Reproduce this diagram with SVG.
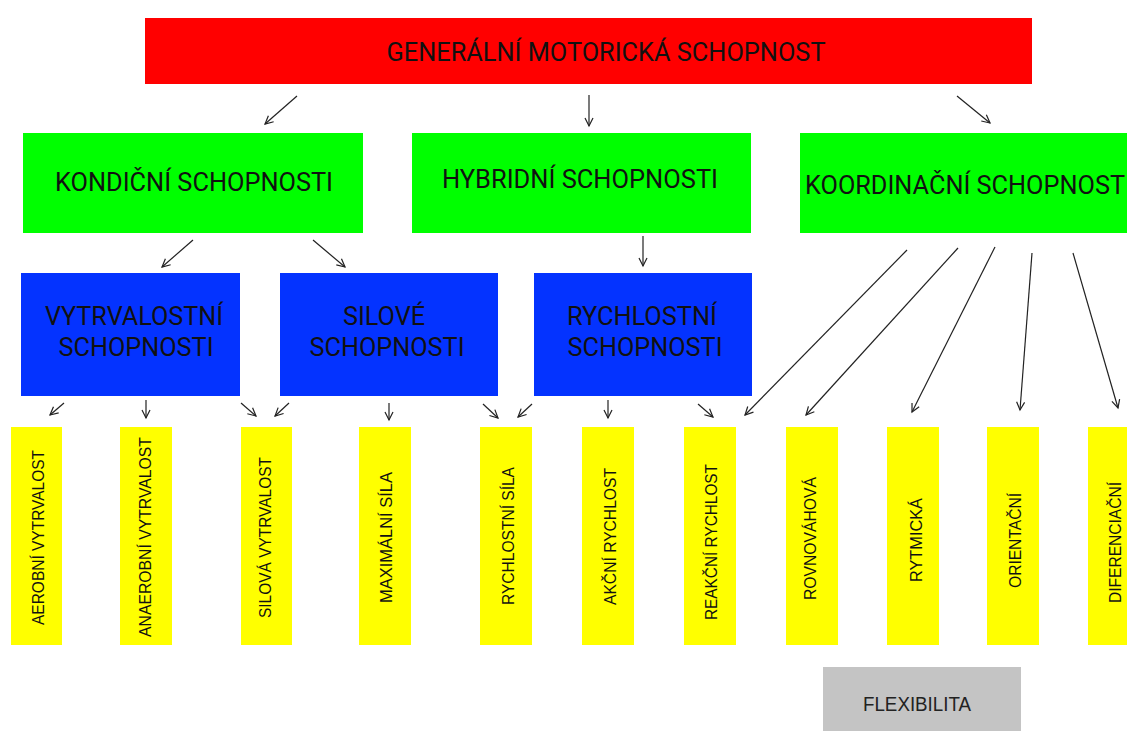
<svg xmlns="http://www.w3.org/2000/svg" width="1127" height="731" viewBox="0 0 1127 731">
<style>
.big{font-family:Roboto,"Liberation Sans",sans-serif;font-size:25px;fill:#111;text-anchor:middle;dominant-baseline:central}
.sm{font-family:"Liberation Sans",Arial,sans-serif;font-size:17px;fill:#111;text-anchor:middle;dominant-baseline:central}
.fl{font-family:"Liberation Sans",Arial,sans-serif;font-size:20px;fill:#222;text-anchor:middle;dominant-baseline:central}
.yel{fill:#ffff00}
.con line{stroke:#222;stroke-width:1.2;marker-end:url(#ah)}
</style>
<defs>
<marker id="ah" markerUnits="userSpaceOnUse" markerWidth="12" markerHeight="12" refX="9" refY="5" orient="auto">
<path d="M1,1 L9,5 L1,9" fill="none" stroke="#222" stroke-width="1.2"/>
</marker>
</defs>
<rect width="1127" height="731" fill="#fff"/>
<g id="general"><rect x="145" y="18" width="887" height="66" fill="#ff0000"/><text class="big" style="font-size:26px" x="606" y="52" textLength="439" lengthAdjust="spacingAndGlyphs">GENERÁLNÍ MOTORICKÁ SCHOPNOST</text></g>
<g id="kondicni"><rect x="23" y="133" width="340" height="100" fill="#00ff00"/><text class="big" x="194" y="182" textLength="278" lengthAdjust="spacingAndGlyphs">KONDIČNÍ SCHOPNOSTI</text></g>
<g id="hybridni"><rect x="412" y="133" width="339" height="100" fill="#00ff00"/><text class="big" x="580" y="179" textLength="276" lengthAdjust="spacingAndGlyphs">HYBRIDNÍ SCHOPNOSTI</text></g>
<g id="koordinacni"><rect x="800" y="133" width="327" height="100" fill="#00ff00"/><text class="big" x="965" y="185" textLength="320" lengthAdjust="spacingAndGlyphs">KOORDINAČNÍ SCHOPNOST</text></g>
<g id="vytrvalostni"><rect x="21" y="273" width="219" height="123" fill="#0433ff"/><text class="big" x="134" y="316" textLength="178" lengthAdjust="spacingAndGlyphs">VYTRVALOSTNÍ</text><text class="big" x="136" y="347" textLength="155" lengthAdjust="spacingAndGlyphs">SCHOPNOSTI</text></g>
<g id="silove"><rect x="280" y="273" width="218" height="123" fill="#0433ff"/><text class="big" x="384" y="316" textLength="82" lengthAdjust="spacingAndGlyphs">SILOVÉ</text><text class="big" x="387" y="347" textLength="155" lengthAdjust="spacingAndGlyphs">SCHOPNOSTI</text></g>
<g id="rychlostni"><rect x="534" y="273" width="218" height="123" fill="#0433ff"/><text class="big" x="642" y="316" textLength="150" lengthAdjust="spacingAndGlyphs">RYCHLOSTNÍ</text><text class="big" x="645" y="347" textLength="155" lengthAdjust="spacingAndGlyphs">SCHOPNOSTI</text></g>
<g id="aerobni"><rect class="yel" x="11" y="427" width="51" height="218"/><text class="sm" transform="translate(38,537.5) rotate(-90)" textLength="175" lengthAdjust="spacingAndGlyphs">AEROBNÍ VYTRVALOST</text></g>
<g id="anaerobni"><rect class="yel" x="120" y="427" width="52" height="218"/><text class="sm" transform="translate(145,537) rotate(-90)" textLength="200" lengthAdjust="spacingAndGlyphs">ANAEROBNÍ VYTRVALOST</text></g>
<g id="silova-vytrvalost"><rect class="yel" x="241" y="427" width="51" height="218"/><text class="sm" transform="translate(265,537.5) rotate(-90)" textLength="161" lengthAdjust="spacingAndGlyphs">SILOVÁ VYTRVALOST</text></g>
<g id="maximalni-sila"><rect class="yel" x="359" y="427" width="52" height="218"/><text class="sm" transform="translate(386,537.5) rotate(-90)" textLength="131" lengthAdjust="spacingAndGlyphs">MAXIMÁLNÍ SÍLA</text></g>
<g id="rychlostni-sila"><rect class="yel" x="480" y="427" width="52" height="218"/><text class="sm" transform="translate(508,536) rotate(-90)" textLength="138" lengthAdjust="spacingAndGlyphs">RYCHLOSTNÍ SÍLA</text></g>
<g id="akcni-rychlost"><rect class="yel" x="582" y="427" width="52" height="218"/><text class="sm" transform="translate(610,536.5) rotate(-90)" textLength="137" lengthAdjust="spacingAndGlyphs">AKČNÍ RYCHLOST</text></g>
<g id="reakcni-rychlost"><rect class="yel" x="684" y="427" width="52" height="218"/><text class="sm" transform="translate(711,542) rotate(-90)" textLength="156" lengthAdjust="spacingAndGlyphs">REAKČNÍ RYCHLOST</text></g>
<g id="rovnovahova"><rect class="yel" x="786" y="427" width="52" height="218"/><text class="sm" transform="translate(810,538.5) rotate(-90)" textLength="123" lengthAdjust="spacingAndGlyphs">ROVNOVÁHOVÁ</text></g>
<g id="rytmicka"><rect class="yel" x="887" y="427" width="52" height="218"/><text class="sm" transform="translate(916,540) rotate(-90)" textLength="84" lengthAdjust="spacingAndGlyphs">RYTMICKÁ</text></g>
<g id="orientacni"><rect class="yel" x="987" y="427" width="52" height="218"/><text class="sm" transform="translate(1015,540.5) rotate(-90)" textLength="95" lengthAdjust="spacingAndGlyphs">ORIENTAČNÍ</text></g>
<g id="diferenciacni"><rect class="yel" x="1088" y="427" width="52" height="218"/><text class="sm" transform="translate(1115,542.5) rotate(-90)" textLength="121" lengthAdjust="spacingAndGlyphs">DIFERENCIAČNÍ</text></g>
<g id="flexibilita"><rect x="823" y="667" width="198" height="64" fill="#c4c4c4"/><text class="fl" x="917" y="704" textLength="108" lengthAdjust="spacingAndGlyphs">FLEXIBILITA</text></g>
<g id="connectors" class="con">
<line x1="297" y1="96" x2="265" y2="124"/>
<line x1="589" y1="95" x2="589" y2="126"/>
<line x1="957" y1="96" x2="990" y2="123"/>
<line x1="193" y1="240" x2="162" y2="267"/>
<line x1="313" y1="240" x2="345" y2="267"/>
<line x1="643" y1="236" x2="643" y2="266"/>
<line x1="64" y1="403" x2="50" y2="415"/>
<line x1="146" y1="400" x2="146" y2="418"/>
<line x1="241" y1="403" x2="256" y2="416"/>
<line x1="289" y1="403" x2="275" y2="416"/>
<line x1="389" y1="403" x2="389" y2="420"/>
<line x1="483" y1="404" x2="498" y2="418"/>
<line x1="532" y1="404" x2="518" y2="417"/>
<line x1="608" y1="400" x2="608" y2="418"/>
<line x1="698" y1="404" x2="713" y2="417"/>
<line x1="907" y1="250" x2="745" y2="415"/>
<line x1="958" y1="248" x2="806" y2="415"/>
<line x1="995" y1="247" x2="912" y2="412"/>
<line x1="1032" y1="253" x2="1020" y2="410"/>
<line x1="1073" y1="253" x2="1118" y2="408"/>
</g>
</svg>
